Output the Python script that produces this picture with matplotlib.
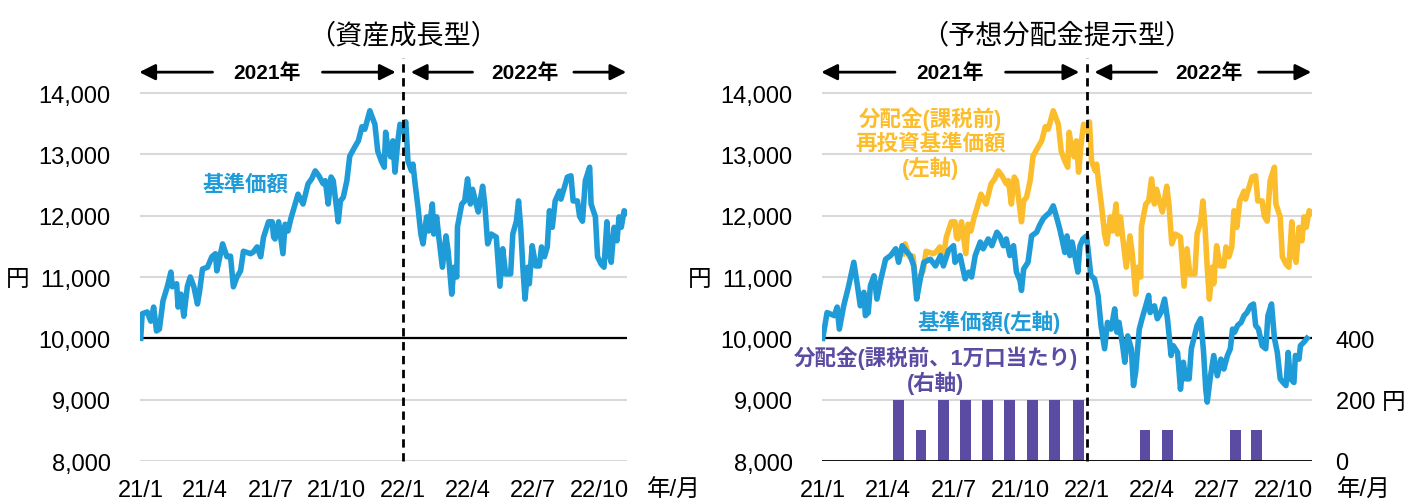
import matplotlib
matplotlib.use("Agg")
import matplotlib.pyplot as plt
import pandas as pd

plt.rcParams['font.family'] = ['Liberation Sans', 'Noto Sans CJK JP']

START = pd.Timestamp('2021-01-01')

# 資産成長型 基準価額 (予想分配金提示型の分配金再投資基準価額とほぼ同じ動き)
growth_days = [0, 2, 9, 14, 18, 22, 26, 31, 37, 42, 44, 50, 52, 56, 60, 65, 69, 74, 79, 82,
               86, 93, 99, 104, 106, 111, 114, 120, 125, 129, 134, 139, 143, 153, 157, 162, 167, 171, 178, 183,
               185, 187, 192, 198, 201, 205, 209, 215, 219, 226, 233, 238, 243, 248, 254, 257, 261, 265, 268, 272,
               275, 278, 282, 287, 291, 298, 303, 308, 312, 319, 326, 330, 335, 339, 341, 344, 348, 351, 354, 358,
               361, 365, 369, 372, 377, 379, 382, 386, 390, 393, 398, 401, 406, 408, 412, 415, 420, 425, 428, 433,
               436, 440, 441, 447, 451, 455, 459, 462, 467, 470, 476, 479, 483, 488, 495, 500, 504, 508, 515, 518,
               523, 526, 529, 532, 535, 539, 541, 545, 550, 555, 558, 562, 566, 569, 573, 577, 583, 585, 590, 594,
               599, 602, 608, 611, 615, 619, 625, 627, 633, 636, 641, 645, 649, 652, 655, 659, 663, 666, 669, 673,
               676]
growth_nav = [10000, 10400, 10430, 10280, 10510, 10120, 10150, 10610, 10840, 11080, 10840, 10890, 10510, 10720, 10360, 10850, 11000, 10840, 10560, 10770,
              11130, 11160, 11330, 11380, 11100, 11380, 11540, 11330, 11340, 10840, 11000, 11100, 11420, 11380, 11410, 11490, 11330, 11650, 11900, 11900,
              11650, 11620, 11900, 11380, 11860, 11750, 11950, 12190, 12350, 12190, 12520, 12600, 12730, 12650, 12520, 12570, 12190, 12630, 12570, 12190,
              11900, 12240, 12300, 12570, 12970, 13120, 13220, 13450, 13410, 13710, 13490, 13050, 12890, 12790, 13360, 13120, 12960, 13220, 12710, 13220,
              13490, 13380, 13530, 12890, 12730, 12840, 12520, 12140, 11700, 11540, 11980, 11750, 12190, 11700, 11980, 11650, 11160, 11670, 11420, 10720,
              11160, 11000, 11820, 12190, 12240, 12600, 12190, 12430, 12190, 12060, 12480, 12190, 11540, 11700, 11650, 10850, 11460, 11050, 11050, 11700,
              11910, 12240, 11810, 11160, 10640, 11160, 10890, 11510, 11180, 11180, 11490, 11330, 11490, 12080, 11810, 12240, 12400, 12270, 12470, 12630,
              12650, 12240, 12240, 11990, 11910, 12570, 12790, 12190, 11980, 11330, 11210, 11160, 11900, 11380, 11240, 11810, 11590, 11980, 11810, 12080,
              12050]

# 予想分配金提示型 基準価額
dist_days = [0, 6, 16, 20, 23, 29, 36, 43, 48, 52, 57, 59, 63, 66, 71, 75, 80, 87, 94, 101,
             105, 110, 117, 121, 126, 130, 135, 140, 149, 156, 163, 167, 174, 181, 183, 190, 197, 202, 206, 211,
             218, 222, 229, 234, 241, 245, 250, 254, 259, 264, 268, 273, 275, 278, 284, 289, 296, 300, 305, 309,
             314, 319, 323, 328, 332, 335, 338, 342, 345, 348, 353, 356, 360, 365, 367, 371, 376, 381, 385, 390,
             394, 399, 404, 407, 410, 415, 418, 422, 427, 430, 433, 438, 443, 447, 451, 453, 459, 463, 468, 473,
             477, 482, 485, 491, 495, 499, 502, 507, 510, 514, 518, 523, 527, 530, 532, 536, 541, 546, 551, 555,
             560, 564, 567, 570, 574, 579, 583, 587, 592, 596, 599, 603, 608, 613, 616, 621, 625, 629, 633, 637,
             641, 644, 647, 652, 654, 659, 661, 666, 670]
dist_nav = [10000, 10420, 10370, 10510, 10150, 10530, 10860, 11240, 10860, 10530, 10750, 10370, 10420, 10860, 11020, 10640, 10940, 11290, 11350, 11460,
            11240, 11510, 11400, 11350, 11180, 10640, 10970, 11240, 11290, 11180, 11350, 11180, 11430, 11510, 11240, 11350, 10970, 11080, 11000, 11350,
            11570, 11460, 11620, 11510, 11730, 11670, 11510, 11620, 11350, 11510, 11080, 10940, 10780, 11130, 11240, 11670, 11730, 11840, 11950, 12000,
            12050, 12160, 12000, 11780, 11570, 11400, 11670, 11350, 11570, 11400, 11080, 11510, 11620, 11670, 11460, 11020, 10970, 10700, 10210, 9830,
            10260, 10150, 10480, 10100, 10260, 9880, 9610, 10040, 9830, 9230, 9450, 10150, 10370, 10530, 10700, 10420, 10530, 10320, 10420, 10640,
            10320, 9720, 9880, 9770, 9170, 9610, 9340, 9340, 9830, 10020, 10210, 10320, 9770, 9170, 8960, 9340, 9720, 9390, 9660, 9500,
            9720, 9830, 10150, 10100, 10210, 10260, 10370, 10420, 10530, 10560, 10210, 10150, 9880, 9830, 10370, 10560, 10000, 9770, 9340, 9280,
            9230, 9770, 9340, 9280, 9720, 9660, 9880, 9940, 10000]

# 分配金（課税前、1万口当たり）
div_dates = ['2021-04-16', '2021-05-17', '2021-06-17', '2021-07-17', '2021-08-17', '2021-09-17',
             '2021-10-18', '2021-11-18', '2021-12-21', '2022-03-23', '2022-04-23', '2022-07-26', '2022-08-24']
div_amount = [200, 100, 200, 200, 200, 200, 200, 200, 200, 100, 100, 100, 100]

# 初回分配前は再投資基準価額 = 基準価額 (線が重なる)
first_div_day = 111

tick_dates = ['2021-01-01', '2021-04-01', '2021-07-01', '2021-10-01',
              '2022-01-01', '2022-04-01', '2022-07-01', '2022-10-01']
tick_labels = ['21/1', '21/4', '21/7', '21/10', '22/1', '22/4', '22/7', '22/10']
y_ticks = [8000, 9000, 10000, 11000, 12000, 13000, 14000]
y2_ticks = [0, 200, 400]
y2_labels = ['0', '200 円', '400']

BLUE = '#1f9bd7'
ORANGE = '#fcbd2c'
PURPLE = '#5b4ba3'
GRID = '#d9d9d9'
FS = 17
LABEL_FS = 15.5


def day(n):
    return START + pd.Timedelta(days=n)


def base_axes(ax):
    ax.set_xlim(day(-1), day(677))
    ax.set_ylim(8000, 14600)
    ax.set_yticks(y_ticks)
    ax.set_yticklabels([f'{v:,}' for v in y_ticks])
    ax.set_xticks(pd.to_datetime(tick_dates))
    ax.set_xticklabels(tick_labels)
    ax.tick_params(axis='both', length=0, labelsize=FS)
    ax.tick_params(axis='y', pad=21)
    ax.tick_params(axis='x', pad=13)
    for s in ax.spines.values():
        s.set_visible(False)
    for v in y_ticks:
        ax.axhline(v, color=GRID, lw=1.5, zorder=0)
    ax.axhline(10000, color='black', lw=1.6, zorder=1)
    ax.plot([day(365), day(365)], [8000, 14570], color='black', lw=2,
            ls=(0, (3, 2)), clip_on=False, zorder=5)
    # 年の矢印
    y = 14340
    arrows = [(100, -2), (253, 355), (462, 376), (603, 676)]
    for a, b in arrows:
        ax.annotate('', xy=(day(b), y), xytext=(day(a), y),
                    arrowprops=dict(arrowstyle='-|>', color='black', lw=2,
                                    mutation_scale=24, shrinkA=0, shrinkB=0),
                    annotation_clip=False)
    ax.text(day(176), y, '2021年', ha='center', va='center', fontsize=15, fontweight='bold')
    ax.text(day(535), y, '2022年', ha='center', va='center', fontsize=15, fontweight='bold')


fig = plt.figure(figsize=(14.04, 5.02), dpi=100)

bottom = 1 - 462 / 502
height = (462 - 57.2) / 502

# 資産成長型
ax1 = fig.add_axes([140 / 1404, bottom, 487 / 1404, height])
base_axes(ax1)
ax1.plot([day(d) for d in growth_days], growth_nav, color=BLUE, lw=4, zorder=3)
ax1.text(day(146), 12516, '基準価額', color=BLUE, fontsize=LABEL_FS, fontweight='bold',
         ha='center', va='center')

# 予想分配金提示型
ax2 = fig.add_axes([822 / 1404, bottom, 490 / 1404, height])
base_axes(ax2)
reinv = [(day(d), v) for d, v in zip(growth_days, growth_nav) if d >= first_div_day]
ax2.plot([p[0] for p in reinv], [p[1] for p in reinv], color=ORANGE, lw=4, zorder=3)
ax2.plot([day(d) for d in dist_days], dist_nav, color=BLUE, lw=4, zorder=4)
ax2.text(day(149), 13190, '分配金(課税前)\n再投資基準価額\n(左軸)', color=ORANGE,
         fontsize=LABEL_FS, fontweight='bold', ha='center', va='center', linespacing=1.12)
ax2.text(day(230), 10283, '基準価額(左軸)', color=BLUE, fontsize=LABEL_FS,
         fontweight='bold', ha='center', va='center')
ax2.text(day(156), 9492, '分配金(課税前、1万口当たり)\n(右軸)', color=PURPLE,
         fontsize=LABEL_FS, fontweight='bold', ha='center', va='center', linespacing=1.12)

ax3 = ax2.twinx()
ax3.set_ylim(0, 1320)
ax3.bar(pd.to_datetime(div_dates), div_amount, width=15, color=PURPLE, zorder=2)
ax3.axhline(0, color='black', lw=2)
ax3.set_yticks(y2_ticks)
ax3.set_yticklabels(y2_labels)
ax3.tick_params(axis='y', length=0, labelsize=FS, pad=17)
for s in ax3.spines.values():
    s.set_visible(False)

# 見出し・単位
fig.text(403 / 1404, 1 - 36 / 502, '（資産成長型）', ha='center', va='center', fontsize=19.5)
fig.text(1057 / 1404, 1 - 36 / 502, '（予想分配金提示型）', ha='center', va='center', fontsize=19.5)
fig.text(18 / 1404, 1 - 280 / 502, '円', ha='center', va='center', fontsize=FS)
fig.text(700 / 1404, 1 - 280 / 502, '円', ha='center', va='center', fontsize=FS)
fig.text(674 / 1404, 1 - 491 / 502, '年/月', ha='center', va='center', fontsize=FS)
fig.text(1364 / 1404, 1 - 491 / 502, '年/月', ha='center', va='center', fontsize=FS)

fig.savefig('out.png', dpi=100)
